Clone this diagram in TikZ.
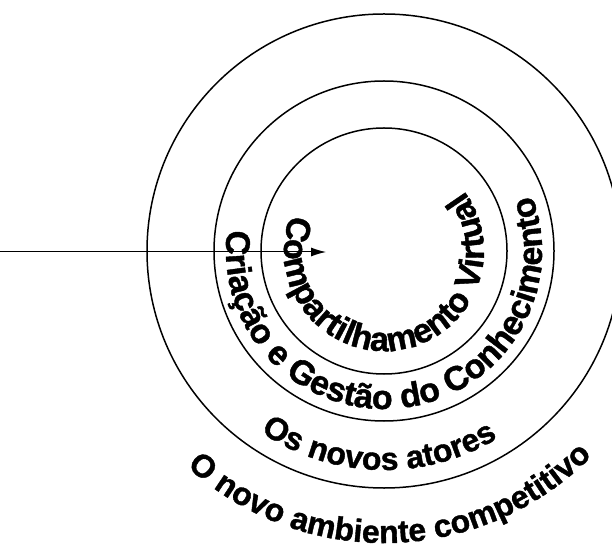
\documentclass[tikz,border=0pt]{standalone}
\usepackage{fontspec}
\setmainfont{Liberation Sans}
\newfontfamily\heavyfont{Liberation Sans Bold}[FakeBold=1.2]
\usetikzlibrary{decorations.text,arrows.meta,calc}
\newcommand\ringfont{\heavyfont\fontsize{32}{32}\selectfont}
\newcommand\bigringfont{\heavyfont\fontsize{34}{34}\selectfont}
\begin{document}
\begin{tikzpicture}[x=1pt,y=1pt,
  ring/.style={circle,draw,line width=1.5pt,inner sep=0pt},
  ringtext/.style={decorate,decoration={text along path,text align=center,text={|\ringfont|#1}}},
  bigringtext/.style={decorate,decoration={text along path,text align=center,text={|\bigringfont|#1}}},
  pointer/.style={line width=1pt,-{Latex[length=15pt,width=9pt]}}]
\useasboundingbox (0,0) rectangle (612,549);
\clip (0,0) rectangle (612,549);
\coordinate (c) at (384,298);
\node[ring,minimum size=474pt] (outer) at (c) {};
\node[ring,minimum size=340pt] (middle) at (c) {};
\node[ring,minimum size=246pt] (inner) at (c) {};
\coordinate (start) at (0,297);
\coordinate (tip) at (326,297);
\draw[pointer] (start) -- (tip);
\path[bigringtext={Compartilhamento Virtual}] ($(c)+(152:100)$) arc[start angle=152,end angle=404,radius=100];
\path[bigringtext={Criação e Gestão do Conhecimento}] ($(c)+(165:158)$) arc[start angle=165,end angle=388,radius=158];
\path[ringtext={Os novos atores}] ($(c)+(230:219)$) arc[start angle=230,end angle=307,radius=219];
\path[ringtext={O novo ambiente competitivo}] ($(c)+(220:292)$) arc[start angle=220,end angle=323,radius=292];
\end{tikzpicture}
\end{document}
